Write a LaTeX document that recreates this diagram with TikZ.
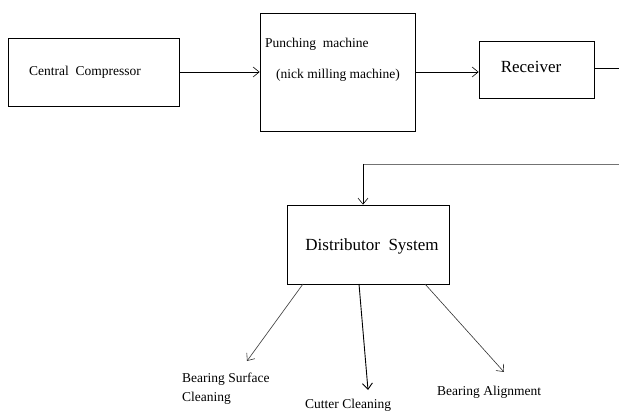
\documentclass[tikz,border=0pt]{standalone}
\usepackage{fontspec}
\setmainfont{Liberation Serif}
\usetikzlibrary{arrows.meta}
\begin{document}
\begin{tikzpicture}[x=1pt,y=-1pt,
  boxnode/.style={draw=black,line width=0.8pt,rectangle,inner sep=0pt},
  smalltext/.style={font=\fontsize{13.5}{19}\selectfont,inner sep=0pt},
  bigtext/.style={font=\fontsize{17}{20}\selectfont,inner sep=0pt},
  arr/.style={-{Straight Barb[length=6pt,width=10pt]},line width=0.6pt},
  greyline/.style={draw=black!55,line width=0.9pt}]
\useasboundingbox (0,0) rectangle (619,414);
% boxes
\node[boxnode,minimum width=171pt,minimum height=68pt] (cc) at (93.5,72) {};
\node[boxnode,minimum width=155pt,minimum height=118pt] (pm) at (337.5,72) {};
\node[boxnode,minimum width=115pt,minimum height=57pt] (rc) at (536.5,70) {};
\node[boxnode,minimum width=162pt,minimum height=79pt] (ds) at (368,244.5) {};
% texts
\node[smalltext] (cct) at (85,72) {Central\ \ Compressor};
\node[smalltext,anchor=west] (pmt1) at (265,44) {Punching\ \ machine};
\node[smalltext,anchor=west] (pmt2) at (276,75) {(nick milling machine)};
\node[bigtext] (rct) at (531,67) {Receiver};
\node[bigtext] (dst) at (372,246) {Distributor\ \ System};
\node[smalltext,anchor=north west,align=left] (l1) at (182,373) {Bearing Surface\\Cleaning};
\node[smalltext,anchor=west] (l2) at (305,405) {Cutter Cleaning};
\node[smalltext,anchor=west] (l3) at (437,392) {Bearing Alignment};
% connectors
\draw[arr] (cc.east) -- (cc.east -| pm.west);
\draw[arr] (pm.east) -- (pm.east -| rc.west);
\coordinate (e1) at (621,68);
\coordinate (e2) at (621,164);
\coordinate (k) at (363,164);
\draw[line width=0.7pt] (rc.east |- e1) -- (e1);
\draw[greyline] (e1) -- (e2) -- (k);
\draw[arr] (k) -- (k |- ds.north);
% outgoing arrows
\coordinate (s1) at (303,284);
\coordinate (s2) at (359,284);
\coordinate (s3) at (425,284);
\coordinate (t1) at (247,361);
\coordinate (t2) at (368,390);
\coordinate (t3) at (504,372);
\draw[arr,draw=black!80] (s1) -- (t1);
\draw[arr,line width=0.9pt] (s2) -- (t2);
\draw[arr,draw=black!80] (s3) -- (t3);
\end{tikzpicture}
\end{document}
